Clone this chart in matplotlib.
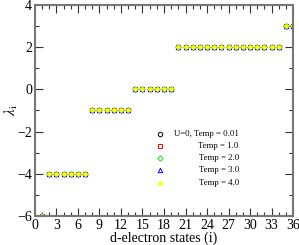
import numpy as np
import matplotlib
matplotlib.use("Agg")
import matplotlib.pyplot as plt

plt.rcParams["font.family"] = ["Liberation Serif", "DejaVu Serif"]
plt.rcParams["mathtext.fontset"] = "stix"

# eigenvalues of the 36 d-electron states (same for every temperature)
states = np.arange(1, 37)
levels = [-6] * 1 + [-4] * 6 + [-1] * 6 + [0] * 6 + [2] * 15 + [3] * 2
levels = np.array(levels)

labels = ["U=0, Temp = 0.01", "Temp = 1.0", "Temp = 2.0", "Temp = 3.0", "Temp = 4.0"]
markers = ["o", "s", "D", "^", "o"]
edges = ["black", "red", "#22dd22", "blue", "yellow"]
faces = ["none", "none", "none", "none", "yellow"]
sizes = [3.2, 3.0, 2.8, 3.2, 2.6]

fig = plt.figure(figsize=(2.99, 2.45), dpi=100)
ax = fig.add_axes([0.117, 0.118, 0.863, 0.862])

for m, ec, fc, ms in zip(markers, edges, faces, sizes):
    ax.plot(states, levels, linestyle="none", marker=m, ms=ms,
            mec=ec, mfc=fc, mew=0.7)

ax.set_xlim(0, 36)
ax.set_ylim(-6, 4)
ax.set_xticks(np.arange(0, 37, 3))
ax.set_xticks(np.arange(0, 37, 1), minor=True)
ax.set_yticks(np.arange(-6, 5, 2))
ax.set_yticks(np.arange(-6, 5, 1), minor=True)
ax.tick_params(which="both", direction="in", top=True, right=True,
               labelsize=10, color="#333333", pad=2)
ax.tick_params(which="major", length=6, width=0.8)
ax.tick_params(which="minor", length=3, width=0.8)
for s in ax.spines.values():
    s.set_color("#777777")
    s.set_linewidth(1.5)

ax.set_xlabel("d-electron states (i)", fontsize=10, labelpad=0)
ax.set_ylabel(r"$\lambda_{\rm i}$", fontsize=11, labelpad=-2)

# legend in xmgrace style: symbol on the left, text right-aligned
ytop = 0.39
for k, (lab, m, ec, fc, ms) in enumerate(zip(labels, markers, edges, faces, sizes)):
    y = ytop - k * 0.058
    ax.plot([0.485], [y], transform=ax.transAxes, linestyle="none",
            marker=m, ms=ms, mec=ec, mfc=fc, mew=0.7)
    ax.text(0.79, y, lab, transform=ax.transAxes, ha="right", va="center",
            fontsize=6.3)

fig.savefig("out.png", dpi=100)
